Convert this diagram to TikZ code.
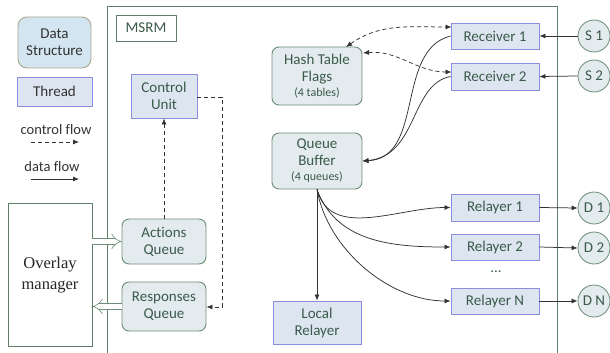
\documentclass[tikz,border=0pt]{standalone}
\usepackage{fontspec}
\setmainfont{Carlito}[Ligatures=NoCommon]
\newfontfamily\serifface{Liberation Serif}
\usetikzlibrary{arrows.meta}

\definecolor{boxfill}{HTML}{E4EBEE}
\definecolor{threadfill}{HTML}{DDE6F0}
\definecolor{dsborder}{HTML}{6B8C76}
\definecolor{thborder}{HTML}{8A8EDC}
\definecolor{txtgreen}{HTML}{3A5A4A}
\definecolor{legfill}{HTML}{D3E5F0}
\definecolor{legborder}{HTML}{A9A88E}
\definecolor{frame}{HTML}{5F7F68}
\definecolor{linecol}{HTML}{333333}

\tikzset{
  bigfont/.style={font=\fontsize{15}{17}\selectfont},
  dstruct/.style={draw=dsborder, fill=boxfill, line width=0.9pt, rounded corners=7pt,
    text=txtgreen, align=center, inner sep=1pt, bigfont},
  thread/.style={draw=thborder, fill=threadfill, line width=0.9pt,
    text=txtgreen, align=center, inner sep=1pt, bigfont},
  endpoint/.style={circle, draw=dsborder, fill=boxfill, line width=0.8pt, minimum size=32pt,
    inner sep=0pt, text=txtgreen, bigfont},
  legtext/.style={text=linecol, font=\fontsize{14.5}{16}\selectfont},
  dataflow/.style={draw=linecol, line width=0.75pt, -{Latex[length=6pt,width=5pt]}},
  ctrlflow/.style={draw=linecol, line width=0.75pt, dashed, dash pattern=on 4pt off 3pt,
    -{Latex[length=6pt,width=5pt]}},
  ctrlboth/.style={ctrlflow, {Latex[length=6pt,width=5pt]}-{Latex[length=6pt,width=5pt]}},
  hollow/.style={draw=dsborder, line width=0.6pt, double=white, double distance=5pt,
    -{Implies[length=7pt]}}
}
\newcommand{\smalltext}[1]{{\fontsize{12}{13}\selectfont #1}}

\begin{document}
\begin{tikzpicture}[x=1pt, y=-1pt]
\useasboundingbox (0,0) rectangle (610,353);

% legend
\node[draw=legborder, fill=legfill, line width=0.9pt, rounded corners=9pt, minimum width=73pt,
  minimum height=51pt, align=center, text=linecol, bigfont]
  (legds) at (54.5,42.5) {Data\\Structure};
\node[thread, minimum width=75pt, minimum height=29pt, text=linecol] (legth) at (54.5,91.5) {Thread};
\node[legtext] (legctl) at (56,130) {control flow};
\coordinate (ca) at (31,142);
\coordinate (cb) at (79,142);
\draw[ctrlflow] (ca) -- (cb);
\node[legtext] (legdat) at (52,167) {data flow};
\coordinate (da) at (31,179);
\coordinate (db) at (79,179);
\draw[dataflow] (da) -- (db);

% MSRM frame, open at the bottom
\coordinate (fbl) at (107,353);
\coordinate (ftl) at (107,7);
\coordinate (ftr) at (557,7);
\coordinate (fbr) at (557,353);
\draw[frame, line width=1pt] (fbl) -- (ftl) -- (ftr) -- (fbr);
\node[draw=frame, fill=white, line width=0.9pt, minimum width=60pt, minimum height=26pt,
  text=txtgreen, bigfont] (msrm) at (146,28) {MSRM};

% overlay manager
\node[draw=frame, fill=white, line width=0.9pt, minimum width=84pt, minimum height=143pt,
  align=center, text=black!85, font=\serifface\fontsize{16.5}{21}\selectfont] (om) at (50,275) {Overlay\\manager};

% control side
\node[thread, minimum width=66pt, minimum height=44pt] (cu) at (164,96) {Control\\Unit};
\node[dstruct, minimum width=84pt, minimum height=45pt] (aq) at (164,241.5) {Actions\\Queue};
\node[dstruct, minimum width=84pt, minimum height=49pt] (rq) at (164,306.5) {Responses\\Queue};

\draw[hollow] (om.east |- aq.west) -- (aq.west);
\draw[hollow] (rq.west) -- (om.east |- rq.west);

\draw[ctrlflow] (aq.north) -- (cu.south);
\coordinate (c1) at (222,97);
\coordinate (c2) at (222,307);
\draw[ctrlflow] (cu.east |- c1) -- (c1) -- (c2) -- (rq.east |- c2);

% data structures
\node[dstruct, minimum width=90pt, minimum height=58pt] (ht) at (317,76)
  {Hash Table\\Flags\\[-2pt]\smalltext{(4 tables)}};
\node[dstruct, minimum width=90pt, minimum height=56pt] (qb) at (317,161)
  {Queue\\Buffer\\[-2pt]\smalltext{(4 queues)}};

% receivers and sources
\node[thread, minimum width=88pt, minimum height=26pt] (rc1) at (495,36) {Receiver 1};
\node[thread, minimum width=88pt, minimum height=27pt] (rc2) at (495,76.5) {Receiver 2};
\node[endpoint] (s1) at (594,36) {S 1};
\node[endpoint] (s2) at (594,76) {S 2};
\draw[dataflow] (s1.west) -- (rc1.east);
\draw[dataflow] (s2.west) -- (rc2.east);

% relayers and destinations
\node[thread, minimum width=88pt, minimum height=27pt] (rl1) at (495,207.5) {Relayer 1};
\node[thread, minimum width=88pt, minimum height=26pt] (rl2) at (495,247) {Relayer 2};
\node[text=txtgreen, bigfont] (dots) at (496,272) {...};
\node[thread, minimum width=88pt, minimum height=26pt] (rln) at (495,301) {Relayer N};
\node[endpoint] (d1) at (594,208) {D 1};
\node[endpoint] (d2) at (594,248) {D 2};
\node[endpoint] (dn) at (594,301) {D N};
\draw[dataflow] (rl1.east) -- (d1.west);
\draw[dataflow] (rl2.east) -- (d2.west);
\draw[dataflow] (rln.east) -- (dn.west);

\node[thread, minimum width=88pt, minimum height=43pt] (lr) at (317,322.5) {Local\\Relayer};

% receivers feed the queue buffer
\draw[dataflow] (rc1.west) .. controls (395,50) and (425,158) .. (qb.east);
\draw[dataflow] (rc2.west) .. controls (410,84) and (418,156) .. (qb.east);

% receivers update the hash table flags
\coordinate (hta) at (346,47);
\coordinate (rca) at (451.5,27);
\draw[ctrlboth] (hta) to[out=35, in=180] (rca);
\coordinate (htb) at (363,53);
\coordinate (rcb) at (451.5,72);
\draw[ctrlboth] (htb) to[out=5, in=180] (rcb);

% queue buffer dispatches to the relayers
\draw[dataflow] (qb.south) -- (lr.north);
\draw[dataflow] (qb.south) to[out=-75, in=180] (rl1.west);
\draw[dataflow] (qb.south) to[out=-70, in=180] (rl2.west);
\draw[dataflow] (qb.south) to[out=-80, in=180, looseness=0.9] (rln.west);
\end{tikzpicture}
\end{document}
